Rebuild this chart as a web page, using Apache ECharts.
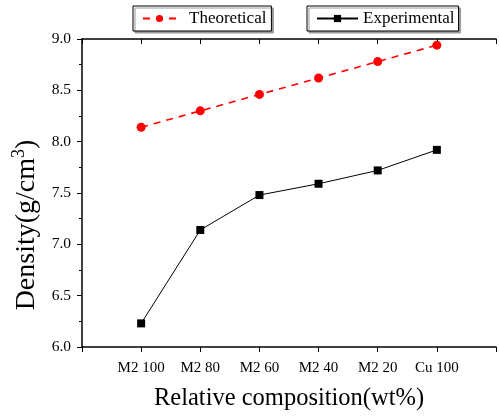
<!DOCTYPE html>
<html>
<head>
<meta charset="utf-8">
<script src="https://cdn.jsdelivr.net/npm/echarts@6/dist/echarts.min.js"></script>
<style>html,body{margin:0;padding:0;background:#fff}#c{width:499px;height:416px}</style>
</head>
<body>
<div id="c"></div>
<script>
var categories = ['M2 100', 'M2 80', 'M2 60', 'M2 40', 'M2 20', 'Cu 100'];
var theoretical = [8.14, 8.30, 8.46, 8.62, 8.78, 8.94];
var experimental = [6.23, 7.14, 7.48, 7.59, 7.72, 7.92];
var yTicks = [6.0, 6.5, 7.0, 7.5, 8.0, 8.5, 9.0];

var FONT = '"Liberation Serif", "Times New Roman", serif';
function pts(arr) { return arr.map(function (v, i) { return [i + 1, v]; }); }

var chart = echarts.init(document.getElementById('c'), null, { renderer: 'canvas' });
var legendBase = {
  top: 6, orient: 'horizontal', backgroundColor: '#fff',
  borderColor: '#000', borderWidth: 1, borderRadius: 0,
  shadowColor: '#9a9a9a', shadowBlur: 0, shadowOffsetX: 2, shadowOffsetY: 2,
  itemHeight: 9
};
chart.setOption({
  animation: false,
  backgroundColor: '#fff',
  legend: [
    Object.assign({}, legendBase, {
      left: 133, data: ['Theoretical'], itemWidth: 33, padding: [4, 5, 4, 9],
      textStyle: { fontFamily: FONT, fontSize: 17, color: '#000', padding: [0, 0, 0, 8] }
    }),
    Object.assign({}, legendBase, {
      left: 307, data: ['Experimental'], itemWidth: 41, padding: [4, 4, 4, 9],
      textStyle: { fontFamily: FONT, fontSize: 17, color: '#000' }
    })
  ],
  grid: { left: 82, top: 39, bottom: 69, right: -2, containLabel: false },
  xAxis: [{
    type: 'value', min: 0, max: 7, interval: 1,
    name: 'Relative composition(wt%)', nameLocation: 'middle', nameGap: 39,
    nameTextStyle: { fontFamily: FONT, fontSize: 24.5, color: '#000' },
    axisLine: { onZero: false, lineStyle: { color: '#000', width: 1.5 } },
    axisTick: { inside: false, length: 5, lineStyle: { color: '#000', width: 1 } },
    axisLabel: {
      margin: 14, fontFamily: FONT, fontSize: 15, color: '#000',
      formatter: function (v) { return categories[v - 1] || ''; }
    },
    splitLine: { show: false }
  }, {
    type: 'value', min: 0, max: 7, interval: 1, position: 'top',
    axisLine: { onZero: false, lineStyle: { color: '#000', width: 1.5 } },
    axisTick: { inside: true, length: 5, lineStyle: { color: '#000', width: 1 } },
    axisLabel: { show: false }, splitLine: { show: false }
  }],
  yAxis: {
    type: 'value', min: yTicks[0], max: yTicks[yTicks.length - 1], interval: 0.5,
    name: '{a|Density(g/cm}{s|3}{a|)}', nameLocation: 'middle', nameGap: 38, nameRotate: 90,
    nameTextStyle: {
      padding: [0, 64, 0, 0],
      rich: {
        a: { fontFamily: FONT, fontSize: 28, color: '#000' },
        s: { fontFamily: FONT, fontSize: 18, color: '#000', verticalAlign: 'top', padding: [0, 0, 14, 0] }
      }
    },
    axisLine: { show: true, onZero: false, lineStyle: { color: '#000', width: 1.5 } },
    axisTick: { show: true, inside: false, length: 5, lineStyle: { color: '#000', width: 1 } },
    minorTick: { show: true, splitNumber: 2, length: 3, lineStyle: { color: '#000', width: 1 } },
    axisLabel: {
      margin: 11, fontFamily: FONT, fontSize: 15.5, color: '#000',
      formatter: function (v) { return v.toFixed(1); }
    },
    splitLine: { show: false }
  },
  series: [{
    name: 'Theoretical', type: 'line', data: pts(theoretical),
    symbol: 'circle', symbolSize: 9,
    itemStyle: { color: '#ff0000' },
    lineStyle: { color: '#ff0000', width: 1.6, type: [7, 6] }
  }, {
    name: 'Experimental', type: 'line', data: pts(experimental),
    symbol: 'rect', symbolSize: 8,
    itemStyle: { color: '#000' },
    lineStyle: { color: '#000', width: 1 }
  }]
});
</script>
</body>
</html>
